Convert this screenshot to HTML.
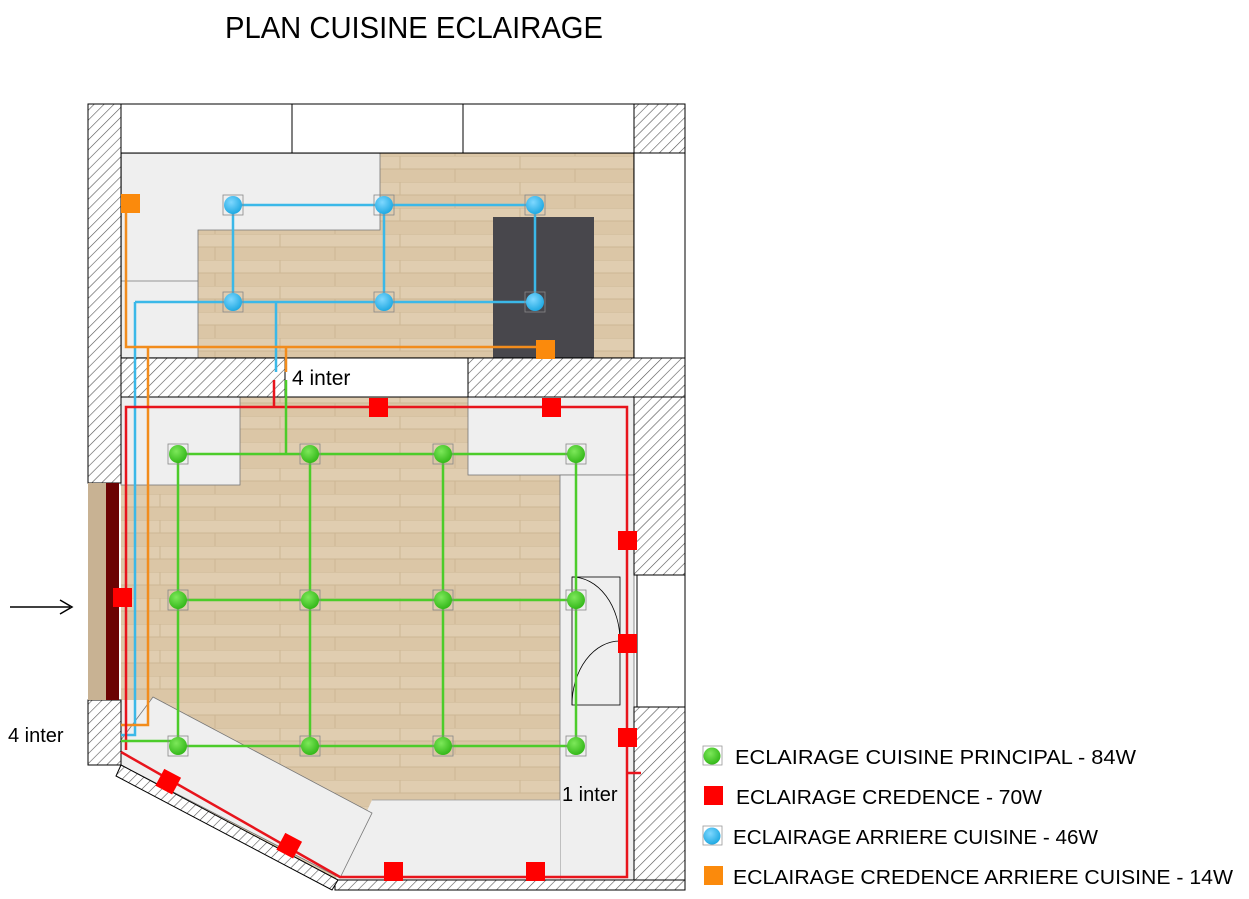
<!DOCTYPE html>
<html><head><meta charset="utf-8"><style>
html,body{margin:0;padding:0;background:#fff;}
svg{display:block;font-family:"Liberation Sans","DejaVu Sans",sans-serif;}
</style></head><body>
<svg width="1249" height="899" viewBox="0 0 1249 899" xmlns="http://www.w3.org/2000/svg">
<defs>
<pattern id="h" width="7" height="7" patternUnits="userSpaceOnUse" patternTransform="rotate(45)">
<rect width="7" height="7" fill="#fff"/><line x1="0" y1="0" x2="0" y2="7" stroke="#555" stroke-width="1.2"/>
</pattern>
<pattern id="w" width="120" height="26" patternUnits="userSpaceOnUse">
<rect width="120" height="26" fill="#e0cdb0"/>
<rect y="13" width="120" height="13" fill="#dbc6a6"/>
<line x1="0" y1="0" x2="120" y2="0" stroke="#cdb694" stroke-width="1"/>
<line x1="0" y1="13" x2="120" y2="13" stroke="#cdb694" stroke-width="1"/>
<line x1="40" y1="0" x2="40" y2="13" stroke="#cdb694"/><line x1="95" y1="13" x2="95" y2="26" stroke="#cdb694"/>
</pattern>
<radialGradient id="g" cx="0.4" cy="0.35" r="0.7"><stop offset="0" stop-color="#7de85a"/><stop offset="1" stop-color="#2fb515"/></radialGradient>
<radialGradient id="b" cx="0.4" cy="0.35" r="0.7"><stop offset="0" stop-color="#7fd8ff"/><stop offset="1" stop-color="#1aa6e0"/></radialGradient>
</defs>

<text x="225" y="38" font-size="31" textLength="378" lengthAdjust="spacingAndGlyphs">PLAN CUISINE ECLAIRAGE</text>

<rect x="121" y="153" width="513" height="205" fill="url(#w)"/>
<path d="M121 153 H380 V230 H198 V358 H121 Z" fill="#efefef" stroke="#777" stroke-width="0.8"/>
<line x1="121" y1="281" x2="198" y2="281" stroke="#777" stroke-width="0.8"/>
<rect x="493" y="217" width="101" height="141" fill="#48474c"/>
<rect x="121" y="153" width="513" height="205" fill="none" stroke="#000" stroke-width="1.2"/>

<polygon points="121,397 634,397 634,880 335,880 121,765" fill="url(#w)"/>
<rect x="121" y="397" width="119" height="88" fill="#efefef" stroke="#777" stroke-width="0.8"/>
<rect x="468" y="397" width="166" height="78" fill="#efefef" stroke="#777" stroke-width="0.8"/>
<rect x="560" y="475" width="74" height="405" fill="#efefef" stroke="#777" stroke-width="0.8"/>
<polygon points="372,800 560,800 560,880 335,880" fill="#efefef"/>
<line x1="372" y1="800" x2="560" y2="800" stroke="#999" stroke-width="0.8"/>
<polygon points="121,700 151,700 151,780 121,765" fill="#efefef"/>
<polygon points="153,697 372,813 340,878 121,765 121,740" fill="#efefef" stroke="#777" stroke-width="0.8"/>

<rect x="88" y="104" width="33" height="379" fill="url(#h)" stroke="#000"/>
<rect x="88" y="700" width="33" height="65" fill="url(#h)" stroke="#000"/>
<rect x="88" y="483" width="18" height="217" fill="#c8b293"/>
<rect x="106" y="483" width="13" height="217" fill="#6b0303"/>
<rect x="121" y="104" width="513" height="49" fill="#fff" stroke="#000"/>
<line x1="292" y1="104" x2="292" y2="153" stroke="#000"/><line x1="463" y1="104" x2="463" y2="153" stroke="#000"/>
<rect x="634" y="104" width="51" height="49" fill="url(#h)" stroke="#000"/>
<rect x="634" y="153" width="51" height="205" fill="#fff" stroke="#000"/>
<rect x="121" y="358" width="564" height="39" fill="url(#h)" stroke="#000"/>
<rect x="634" y="397" width="51" height="178" fill="url(#h)" stroke="#000"/>
<rect x="637" y="575" width="48" height="132" fill="#fff" stroke="#000"/>
<rect x="634" y="707" width="51" height="183" fill="url(#h)" stroke="#000"/>
<rect x="335" y="880" width="350" height="10" fill="url(#h)" stroke="#000"/>
<polygon points="121,765 116,776 332,890 338,880" fill="url(#h)" stroke="#000"/>
<rect x="572" y="577" width="48" height="128" fill="none" stroke="#000" stroke-width="0.8"/>
<path d="M572 577 A48 64 0 0 1 620 641" fill="none" stroke="#000" stroke-width="0.8"/>
<path d="M620 641 A48 64 0 0 0 572 705" fill="none" stroke="#000" stroke-width="0.8"/>

<rect x="285" y="358" width="183" height="39" fill="#fff" stroke="#000"/>
<text x="292" y="385" font-size="21">4 inter</text>

<g fill="none" stroke-width="2.5">
<path d="M233 205 H535 M233 205 V302 M384 205 V302 M535 205 V302 M135 302 H535 M135 302 V735 H121 M276 302 V372" stroke="#3bb8e8"/>
<path d="M126 203 V347 H545 M148 347 V725 H121 M286 347 V372" stroke="#f28c1c"/>
<path d="M126 750 V407 H627 V877 H340 L121 752 M274 380 V407 M627 773 H641" stroke="#e8141c"/>
<path d="M286 380 V454 M178 454 H576 M178 600 H576 M121 741 H178 M178 746 H576 M178 454 V746 M310 454 V746 M443 454 V746 M576 454 V746" stroke="#4ccc2a"/>
</g>

<g stroke="#888" stroke-width="0.8" fill="none">
<rect x="168" y="444" width="20" height="20"/><rect x="300" y="444" width="20" height="20"/><rect x="433" y="444" width="20" height="20"/><rect x="566" y="444" width="20" height="20"/>
<rect x="168" y="590" width="20" height="20"/><rect x="300" y="590" width="20" height="20"/><rect x="433" y="590" width="20" height="20"/><rect x="566" y="590" width="20" height="20"/>
<rect x="168" y="736" width="20" height="20"/><rect x="300" y="736" width="20" height="20"/><rect x="433" y="736" width="20" height="20"/><rect x="566" y="736" width="20" height="20"/>
</g>
<g fill="url(#g)">
<circle cx="178" cy="454" r="9"/><circle cx="310" cy="454" r="9"/><circle cx="443" cy="454" r="9"/><circle cx="576" cy="454" r="9"/>
<circle cx="178" cy="600" r="9"/><circle cx="310" cy="600" r="9"/><circle cx="443" cy="600" r="9"/><circle cx="576" cy="600" r="9"/>
<circle cx="178" cy="746" r="9"/><circle cx="310" cy="746" r="9"/><circle cx="443" cy="746" r="9"/><circle cx="576" cy="746" r="9"/>
</g>
<g stroke="#888" stroke-width="0.8" fill="none">
<rect x="223" y="195" width="20" height="20"/><rect x="374" y="195" width="20" height="20"/><rect x="525" y="195" width="20" height="20"/>
<rect x="223" y="292" width="20" height="20"/><rect x="374" y="292" width="20" height="20"/><rect x="525" y="292" width="20" height="20"/>
</g>
<g fill="url(#b)">
<circle cx="233" cy="205" r="9"/><circle cx="384" cy="205" r="9"/><circle cx="535" cy="205" r="9"/>
<circle cx="233" cy="302" r="9"/><circle cx="384" cy="302" r="9"/><circle cx="535" cy="302" r="9"/>
</g>
<g fill="#ff0000">
<rect x="369" y="398" width="19" height="19"/><rect x="542" y="398" width="19" height="19"/>
<rect x="618" y="531" width="19" height="19"/><rect x="618" y="634" width="19" height="19"/><rect x="618" y="728" width="19" height="19"/>
<rect x="113" y="588" width="19" height="19"/>
<rect x="384" y="862" width="19" height="19"/><rect x="526" y="862" width="19" height="19"/>
<rect x="159" y="772" width="19" height="19" transform="rotate(28 168 781)"/>
<rect x="280" y="836" width="19" height="19" transform="rotate(28 289 845)"/>
</g>
<g fill="#fb8a0c">
<rect x="121" y="194" width="19" height="19"/><rect x="536" y="340" width="19" height="19"/>
</g>

<text x="8" y="742" font-size="20">4 inter</text>
<text x="562" y="801" font-size="20">1 inter</text>
<line x1="10" y1="607" x2="70" y2="607" stroke="#000" stroke-width="1.5"/>
<path d="M60 600 L72 607 L60 614" fill="none" stroke="#000" stroke-width="1.5"/>

<rect x="703" y="746" width="19" height="19" fill="none" stroke="#999" stroke-width="0.8"/>
<circle cx="712" cy="756" r="8.5" fill="url(#g)"/>
<text x="735" y="764" font-size="20" textLength="401" lengthAdjust="spacingAndGlyphs">ECLAIRAGE CUISINE PRINCIPAL - 84W</text>
<rect x="704" y="786" width="19" height="19" fill="#ff0000"/>
<text x="736" y="804" font-size="20" textLength="306" lengthAdjust="spacingAndGlyphs">ECLAIRAGE CREDENCE - 70W</text>
<rect x="703" y="826" width="19" height="19" fill="none" stroke="#999" stroke-width="0.8"/>
<circle cx="712" cy="836" r="8.5" fill="url(#b)"/>
<text x="733" y="844" font-size="20" textLength="365" lengthAdjust="spacingAndGlyphs">ECLAIRAGE ARRIERE CUISINE - 46W</text>
<rect x="704" y="866" width="19" height="19" fill="#fb8a0c"/>
<text x="733" y="884" font-size="20" textLength="500" lengthAdjust="spacingAndGlyphs">ECLAIRAGE CREDENCE ARRIERE CUISINE - 14W</text>
</svg>
</body></html>
